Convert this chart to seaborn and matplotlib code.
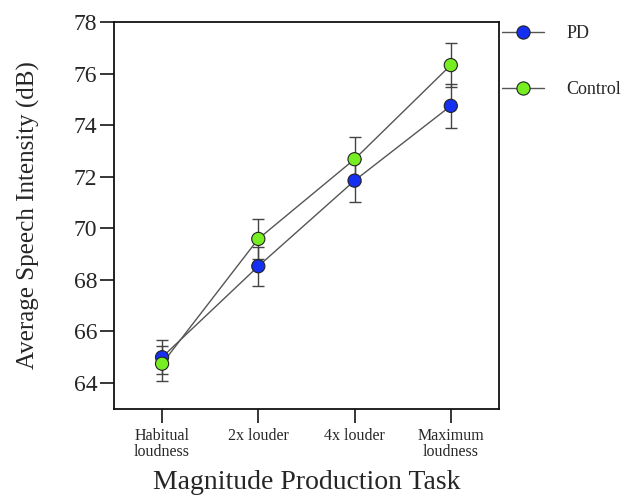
import matplotlib
matplotlib.use("Agg")
import matplotlib.pyplot as plt
from matplotlib.lines import Line2D
import seaborn as sns
import pandas as pd

tasks = ["Habitual\nloudness", "2x louder", "4x louder", "Maximum\nloudness"]
pd_mean = [65.00, 68.53, 71.85, 74.75]
pd_err = [0.65, 0.76, 0.82, 0.84]
ctrl_mean = [64.75, 69.59, 72.68, 76.33]
ctrl_err = [0.67, 0.79, 0.88, 0.86]
groups = ["PD", "Control"]
colors = {"PD": "#1530f0", "Control": "#77ee22"}

df = pd.DataFrame({
    "task": tasks * 2,
    "pos": list(range(4)) * 2,
    "mean": pd_mean + ctrl_mean,
    "err": pd_err + ctrl_err,
    "group": ["PD"] * 4 + ["Control"] * 4,
})

sns.set_style("white")
plt.rcParams["font.family"] = ["Liberation Serif", "DejaVu Serif"]

fig = plt.figure(figsize=(6.26, 5.01), dpi=100)
ax = fig.add_axes([0.182, 0.184, 0.615, 0.772])

for g in groups:
    sub = df[df.group == g]
    ax.errorbar(sub["pos"], sub["mean"], yerr=sub["err"], fmt="none",
                ecolor="#444444", elinewidth=1.0, capsize=4.5, capthick=1.0, zorder=2)

sns.lineplot(data=df, x="pos", y="mean", hue="group", hue_order=groups,
             palette={"PD": "#555555", "Control": "#555555"}, linewidth=1.0,
             ax=ax, zorder=3, legend=False)
sns.scatterplot(data=df, x="pos", y="mean", hue="group", hue_order=groups,
                palette=colors, s=90, edgecolor="#222222", linewidth=0.8,
                ax=ax, zorder=4, legend=False)

ax.set_xlim(-0.5, 3.5)
ax.set_ylim(63.0, 78.0)
ax.set_xticks(range(4))
ax.set_xticklabels(tasks, fontsize=11.5, linespacing=0.95)
ax.set_yticks([64, 66, 68, 70, 72, 74, 76, 78])
ax.tick_params(axis="y", labelsize=17, direction="out", length=10, width=1.3, left=True, pad=2)
ax.tick_params(axis="x", direction="out", length=10, width=1.3, bottom=True, pad=4)
for s in ax.spines.values():
    s.set_color("#111111")
    s.set_linewidth(1.3)

ax.set_ylabel("Average Speech Intensity (dB)", fontsize=18, labelpad=24)
ax.set_xlabel("Magnitude Production Task", fontsize=20, labelpad=7.5)

handles = [Line2D([0], [0], color="#555555", lw=1.0, marker="o", markersize=9.5,
                  markerfacecolor=colors[g], markeredgecolor="#222222", markeredgewidth=0.8)
           for g in groups]
leg = ax.legend(handles, groups, loc="upper left", bbox_to_anchor=(0.995, 1.006),
                frameon=False, fontsize=13, handlelength=2.3, handletextpad=1.25,
                labelspacing=2.15, borderaxespad=0.0, borderpad=0.3)

fig.savefig("out.png", dpi=100)
